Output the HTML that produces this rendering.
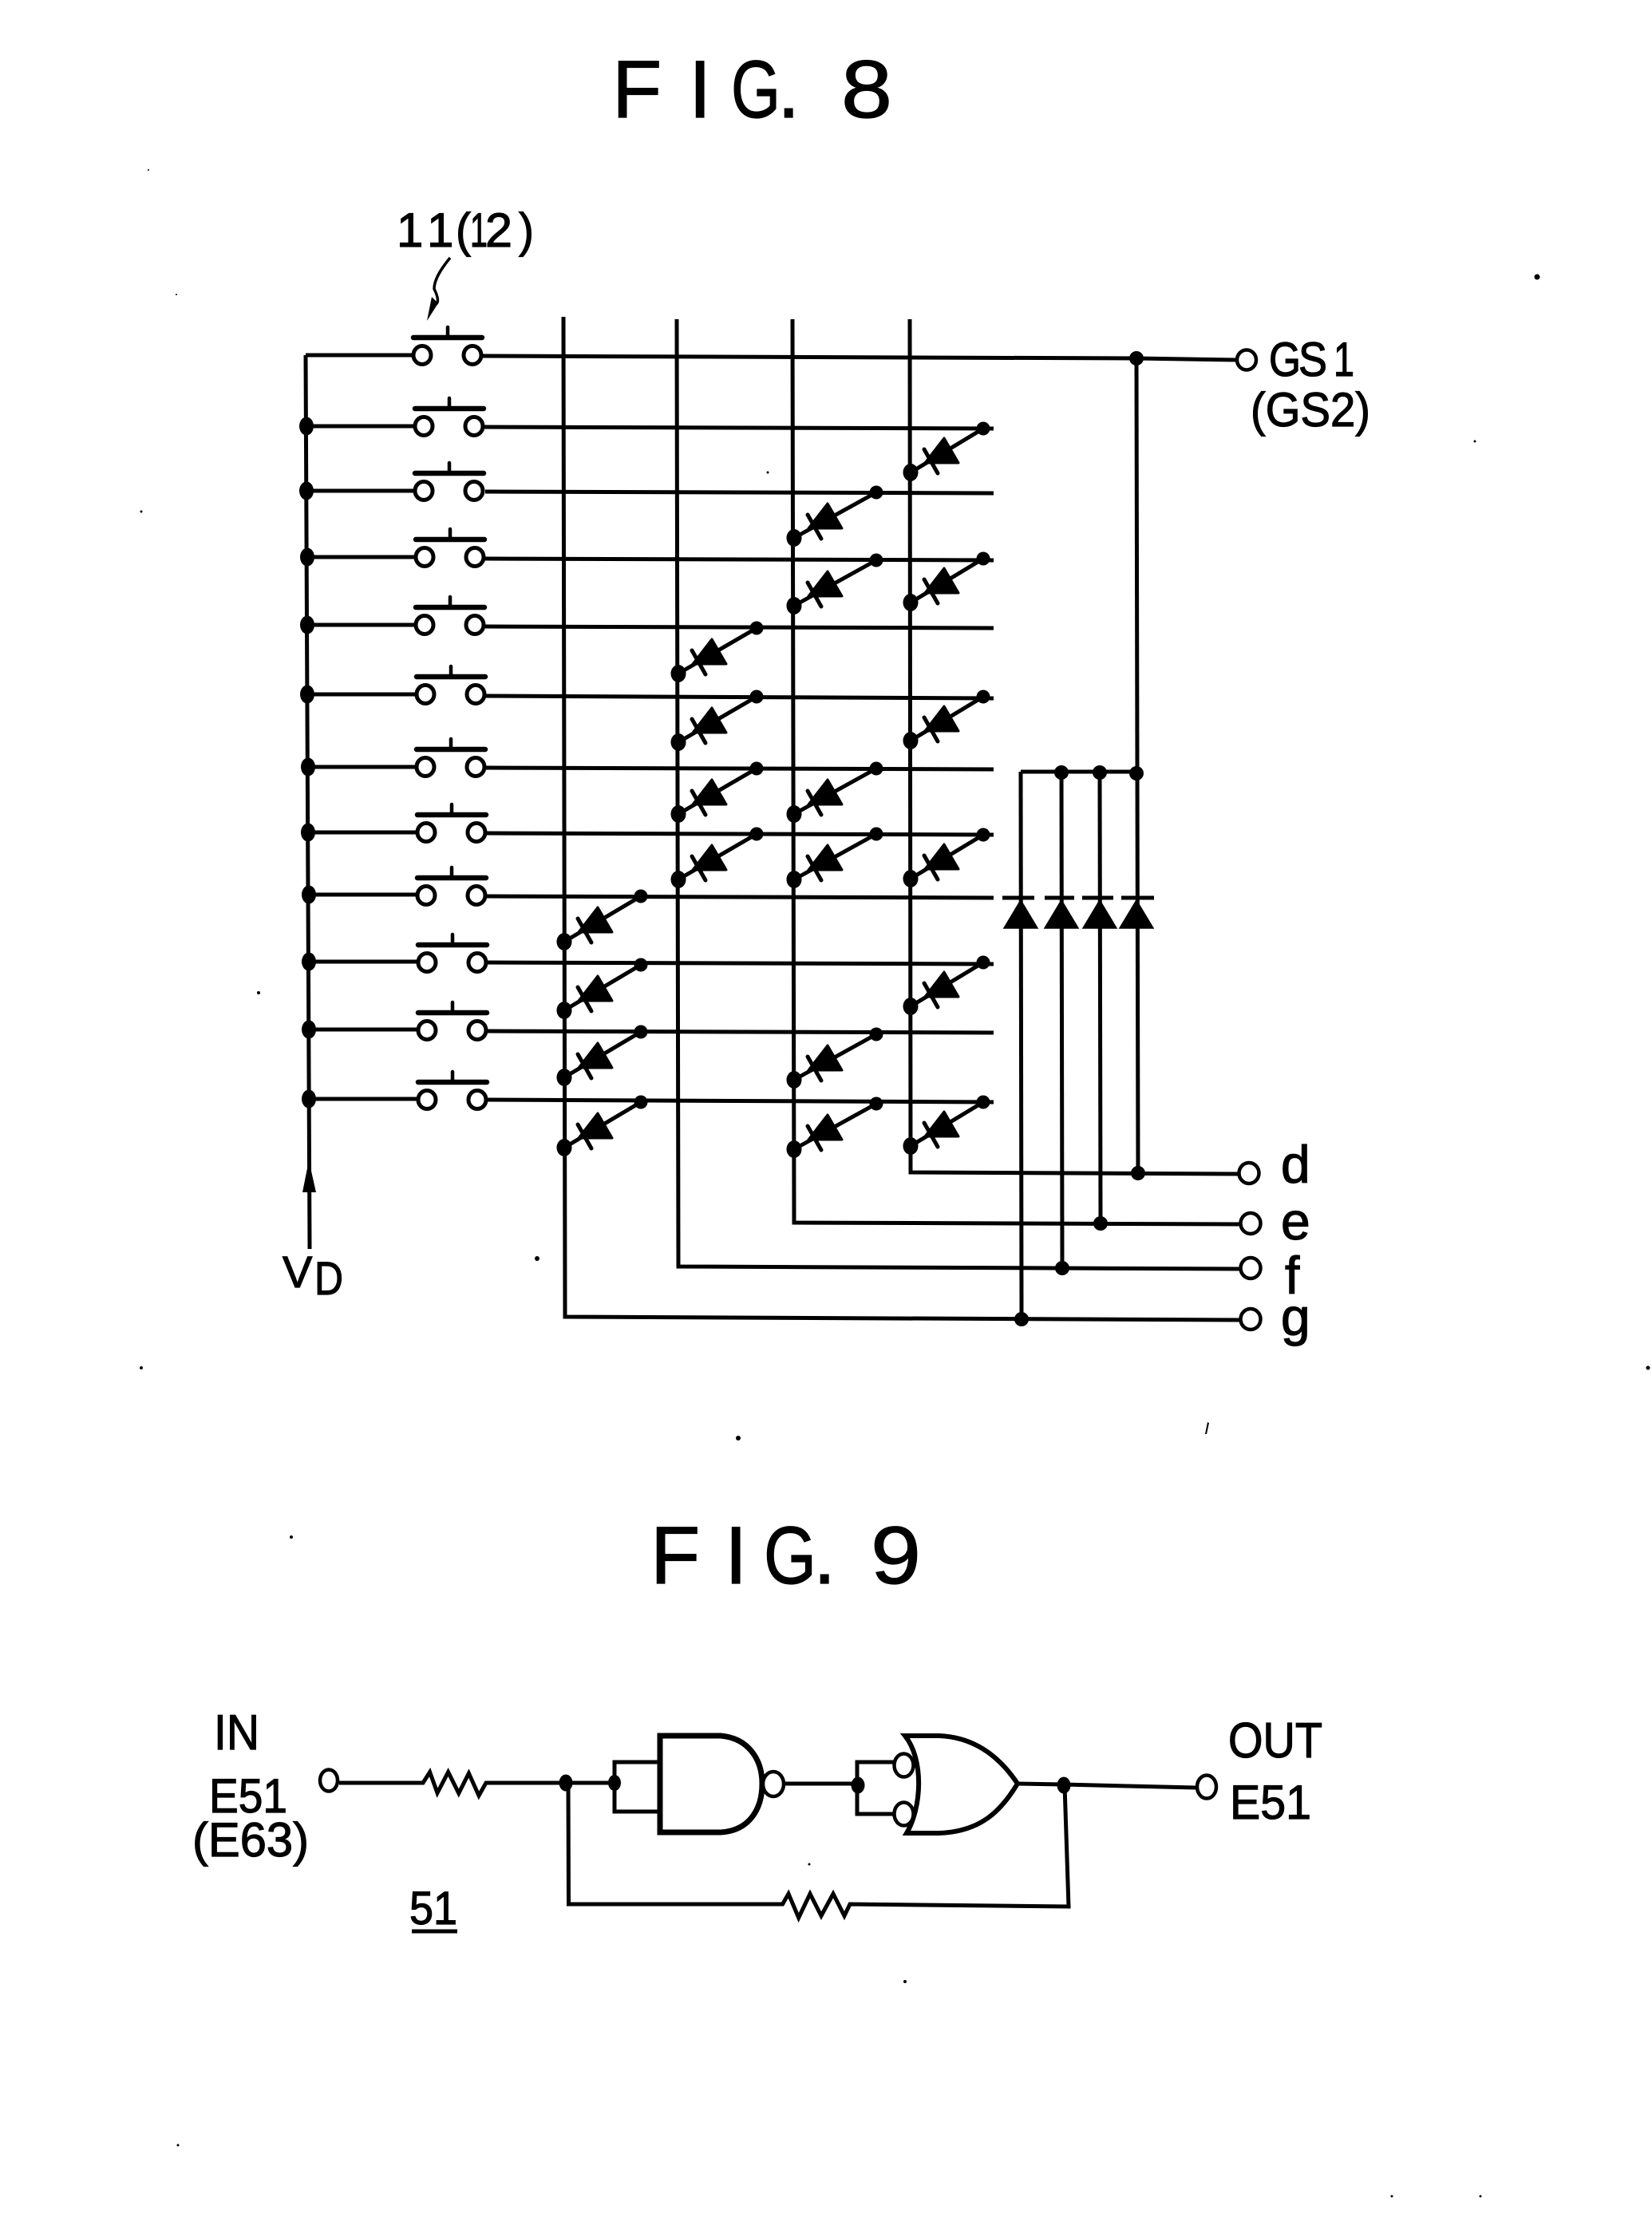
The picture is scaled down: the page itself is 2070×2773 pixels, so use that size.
<!DOCTYPE html>
<html>
<head>
<meta charset="utf-8">
<style>
html,body{margin:0;padding:0;background:#fff}
svg{display:block}
text{font-family:"Liberation Sans",sans-serif;fill:#000;stroke:#000;stroke-width:1.2}
</style>
</head>
<body>
<svg width="2070" height="2773" viewBox="0 0 2070 2773" xmlns="http://www.w3.org/2000/svg">
<defs>
<g id="sw">
  <path d="M-45 -22H41" stroke="#000" stroke-width="6.500" fill="none" stroke-linecap="round"/>
  <path d="M-2 -22V-35" stroke="#000" stroke-width="4.500" fill="none" stroke-linecap="round"/>
  <ellipse cx="-34" cy="0" rx="11" ry="11.500" fill="#fff" stroke="#000" stroke-width="5"/>
  <ellipse cx="29" cy="0" rx="11" ry="11.500" fill="#fff" stroke="#000" stroke-width="5"/>
</g>
<g id="dh">
  <path d="M42 -43L60 -12H18Z" fill="#000" stroke="#000" stroke-width="3" stroke-linejoin="round"/>
  <path d="M17 -29L34 1" stroke="#000" stroke-width="5" fill="none" stroke-linecap="round"/>
  <ellipse cx="0" cy="0" rx="9.500" ry="11" fill="#000"/>
</g>
<g id="d1"><path d="M0 0L96 -57" stroke="#000" stroke-width="5" fill="none"/><circle cx="96" cy="-57" r="8.500" fill="#000"/><use href="#dh"/></g>
<g id="d2"><path d="M0 0L98 -57" stroke="#000" stroke-width="5" fill="none"/><circle cx="98" cy="-57" r="8.500" fill="#000"/><use href="#dh"/></g>
<g id="d3"><path d="M0 0L103 -57" stroke="#000" stroke-width="5" fill="none"/><circle cx="103" cy="-57" r="8.500" fill="#000"/><use href="#dh"/></g>
<g id="d4"><path d="M0 0L91 -55" stroke="#000" stroke-width="5" fill="none"/><circle cx="91" cy="-55" r="8.500" fill="#000"/><use href="#dh"/></g>
<path id="tri" d="M0 0L21 35H-21Z" fill="#000" stroke="#000" stroke-width="1.500"/>
</defs>
<rect width="2070" height="2773" fill="#fff"/>

<!-- titles -->
<g font-size="102">
<text x="767" y="147">F</text>
<text x="863" y="147">I</text>
<text x="916" y="147" textLength="62" lengthAdjust="spacingAndGlyphs">G</text>
<text x="974" y="147">.</text>
<text x="1054" y="147" textLength="64" lengthAdjust="spacingAndGlyphs">8</text>
<text x="815" y="1984">F</text>
<text x="908" y="1984">I</text>
<text x="957" y="1984" textLength="66" lengthAdjust="spacingAndGlyphs">G</text>
<text x="1019" y="1984">.</text>
<text x="1091" y="1984" textLength="63" lengthAdjust="spacingAndGlyphs">9</text>
</g>

<!-- 11(12) -->
<g font-size="60">
<text x="497" y="309">1</text>
<text x="535" y="309">1</text>
<text x="571" y="309" textLength="19" lengthAdjust="spacingAndGlyphs">(</text>
<text x="589" y="309" textLength="22" lengthAdjust="spacingAndGlyphs">1</text>
<text x="608" y="309" textLength="34" lengthAdjust="spacingAndGlyphs">2</text>
<text x="650" y="309" textLength="19" lengthAdjust="spacingAndGlyphs">)</text>
</g>
<path d="M564 323C550 340 544 352 544 362C552 378 548 385 541 378" stroke="#000" stroke-width="3.500" fill="none"/>
<path d="M541 372L549 380L535 402Z" fill="#000"/>

<g stroke="#000" stroke-width="5" fill="none">
  <!-- power bus -->
  <path d="M383 445L388 1565"/>
  <!-- row wires -->
  <path d="M383 445H530M603 446L1424 449L1550 451"/>
  <path d="M384 534H530M605 535L1245 537"/>
  <path d="M384 615H530M608 616L1245 618"/>
  <path d="M384 698H530M608 700L1245 702"/>
  <path d="M384 783H530M608 785L1245 787"/>
  <path d="M385 870H530M608 872L1245 875"/>
  <path d="M385 961H530M608 962L1245 964"/>
  <path d="M385 1043H530M608 1044L1245 1046"/>
  <path d="M386 1121H530M608 1123L1245 1125"/>
  <path d="M386 1205H530M608 1206L1245 1208"/>
  <path d="M386 1290H530M608 1292L1245 1294"/>
  <path d="M386 1377H530M608 1378L1245 1381"/>
  <!-- columns -->
  <path d="M706 397L708 1650L1553 1654"/>
  <path d="M848 400L850 1587L1553 1590"/>
  <path d="M993 400L995 1532L1553 1534"/>
  <path d="M1140 400L1141 1469L1552 1471"/>
  <!-- diode matrix right side -->
  <path d="M1424 449L1426 1470"/>
  <path d="M1279 967H1424"/>
  <path d="M1279 967L1280 1653"/>
  <path d="M1330 967L1331 1589"/>
  <path d="M1378 967L1379 1533"/>
  <!-- diode bars -->
  <path d="M1256 1125H1296M1309 1125H1346M1356 1125H1395M1405 1125H1446"/>
</g>

<use href="#tri" x="1279" y="1128"/>
<use href="#tri" x="1330" y="1128"/>
<use href="#tri" x="1378" y="1128"/>
<use href="#tri" x="1424" y="1128"/>

<!-- switches -->
<use href="#sw" x="563" y="445"/>
<use href="#sw" x="565" y="534"/>
<use href="#sw" x="565" y="615"/>
<use href="#sw" x="566" y="698"/>
<use href="#sw" x="566" y="783"/>
<use href="#sw" x="567" y="870"/>
<use href="#sw" x="567" y="961"/>
<use href="#sw" x="568" y="1043"/>
<use href="#sw" x="568" y="1122"/>
<use href="#sw" x="569" y="1206"/>
<use href="#sw" x="569" y="1291"/>
<use href="#sw" x="569" y="1378"/>

<!-- bus junctions -->
<g fill="#000">
  <ellipse cx="384" cy="534" rx="9" ry="11.500"/>
  <ellipse cx="384" cy="615" rx="9" ry="11.500"/>
  <ellipse cx="385" cy="698" rx="9" ry="11.500"/>
  <ellipse cx="385" cy="783" rx="9" ry="11.500"/>
  <ellipse cx="385" cy="870" rx="9" ry="11.500"/>
  <ellipse cx="386" cy="961" rx="9" ry="11.500"/>
  <ellipse cx="386" cy="1043" rx="9" ry="11.500"/>
  <ellipse cx="387" cy="1121" rx="9" ry="11.500"/>
  <ellipse cx="387" cy="1205" rx="9" ry="11.500"/>
  <ellipse cx="387" cy="1290" rx="9" ry="11.500"/>
  <ellipse cx="387" cy="1377" rx="9" ry="11.500"/>
  <path d="M387 1454L396 1494H379Z"/>
  <circle cx="1424" cy="449" r="9"/>
  <circle cx="1330" cy="968" r="9"/>
  <circle cx="1378" cy="968" r="9"/>
  <circle cx="1424" cy="969" r="9"/>
  <circle cx="1426" cy="1470" r="9"/>
  <circle cx="1379" cy="1533" r="9"/>
  <circle cx="1331" cy="1589" r="9"/>
  <circle cx="1280" cy="1653" r="9"/>
</g>

<!-- matrix diodes -->
<use href="#d4" x="1141" y="592"/>
<use href="#d4" x="1141" y="755"/>
<use href="#d4" x="1141" y="928"/>
<use href="#d4" x="1141" y="1101"/>
<use href="#d4" x="1141" y="1261"/>
<use href="#d4" x="1141" y="1436"/>

<use href="#d3" x="995" y="674"/>
<use href="#d3" x="995" y="759"/>
<use href="#d3" x="995" y="1020"/>
<use href="#d3" x="995" y="1102"/>
<use href="#d3" x="995" y="1353"/>
<use href="#d3" x="995" y="1440"/>

<use href="#d2" x="850" y="844"/>
<use href="#d2" x="850" y="930"/>
<use href="#d2" x="850" y="1020"/>
<use href="#d2" x="850" y="1102"/>

<use href="#d1" x="707" y="1180"/>
<use href="#d1" x="707" y="1266"/>
<use href="#d1" x="707" y="1350"/>
<use href="#d1" x="707" y="1438"/>

<!-- terminals -->
<g fill="#fff" stroke="#000" stroke-width="4.500">
  <ellipse cx="1562" cy="451" rx="12" ry="12.500"/>
  <ellipse cx="1565" cy="1470" rx="12.500" ry="13"/>
  <ellipse cx="1567" cy="1533" rx="12.500" ry="13"/>
  <ellipse cx="1567" cy="1589" rx="12.500" ry="13"/>
  <ellipse cx="1567" cy="1653" rx="12.500" ry="13"/>
</g>

<!-- GS labels -->
<g font-size="60">
<text x="1590" y="471" textLength="40" lengthAdjust="spacingAndGlyphs">G</text>
<text x="1627" y="471" textLength="36" lengthAdjust="spacingAndGlyphs">S</text>
<text x="1671" y="471" textLength="26" lengthAdjust="spacingAndGlyphs">1</text>
<text x="1567" y="534" textLength="150" lengthAdjust="spacingAndGlyphs">(GS2)</text>
</g>
<text x="1605" y="1482" font-size="66">d</text>
<text x="1605" y="1553" font-size="66">e</text>
<text x="1610" y="1621" font-size="66">f</text>
<text x="1605" y="1673" font-size="66">g</text>
<text x="354" y="1613" font-size="56">V</text>
<text x="394" y="1622" font-size="58" textLength="36" lengthAdjust="spacingAndGlyphs">D</text>

<!-- FIG 9 -->
<g stroke="#000" stroke-width="5" fill="none">
  <path d="M425 2234H530L538.600 2220.500L548 2246.600L561.600 2220.500L574.800 2247L587.400 2222L600 2250L609 2234H770"/>
  <path d="M825 2208H770V2270H825"/>
  <path d="M712 2234L712.500 2386H980.600L988 2373L1000.700 2403L1015 2373L1029 2400.600L1044 2373L1058 2400.600L1065 2386L1339 2389L1334 2237"/>
  <path d="M983 2235H1075"/>
  <path d="M1125 2208H1074V2273H1125"/>
  <path d="M1275 2235L1332 2236L1498 2240"/>
</g>
<path d="M827 2175H903C938 2178 955 2205 955 2235C955 2268 938 2294 903 2296H827Z" fill="#fff" stroke="#000" stroke-width="7"/>
<ellipse cx="969" cy="2235.500" rx="13" ry="15.500" fill="#fff" stroke="#000" stroke-width="4.500"/>
<path d="M1134 2175H1177C1225 2177 1255 2205 1275 2235C1255 2268 1230 2295 1177 2297H1136C1155 2265 1158 2205 1134 2175Z" fill="#fff" stroke="#000" stroke-width="6"/>
<ellipse cx="1132.500" cy="2212" rx="12" ry="14.500" fill="#fff" stroke="#000" stroke-width="4.500"/>
<ellipse cx="1132.500" cy="2273" rx="12" ry="14.500" fill="#fff" stroke="#000" stroke-width="4.500"/>
<g fill="#000">
  <ellipse cx="709" cy="2234" rx="8.500" ry="10.500"/>
  <ellipse cx="770" cy="2234" rx="8" ry="10"/>
  <ellipse cx="1075" cy="2237" rx="8.500" ry="10.500"/>
  <ellipse cx="1333" cy="2237" rx="8.500" ry="10.500"/>
</g>
<ellipse cx="412" cy="2231" rx="11" ry="13.500" fill="#fff" stroke="#000" stroke-width="4.500"/>
<ellipse cx="1512" cy="2239" rx="12" ry="14.500" fill="#fff" stroke="#000" stroke-width="4.500"/>

<text x="268" y="2192" font-size="62" textLength="57" lengthAdjust="spacingAndGlyphs">IN</text>
<text x="262" y="2271" font-size="60" textLength="98" lengthAdjust="spacingAndGlyphs">E51</text>
<text x="241" y="2326" font-size="60" textLength="146" lengthAdjust="spacingAndGlyphs">(E63)</text>
<text x="513" y="2411" font-size="58" textLength="60" lengthAdjust="spacingAndGlyphs">51</text>
<path d="M516 2420H573" stroke="#000" stroke-width="5"/>
<text x="1539" y="2202" font-size="62" textLength="118" lengthAdjust="spacingAndGlyphs">OUT</text>
<text x="1541" y="2279" font-size="60" textLength="102" lengthAdjust="spacingAndGlyphs">E51</text>

<!-- specks -->
<g fill="#000">
  <circle cx="1926" cy="347" r="3.500"/>
  <circle cx="962" cy="592" r="1.500"/>
  <circle cx="673" cy="1577" r="3"/>
  <circle cx="925" cy="1802" r="3"/>
  <circle cx="365" cy="1926" r="2"/>
  <circle cx="177" cy="1714" r="2"/>
  <circle cx="2065" cy="1714" r="2.500"/>
  <path d="M1510 1797L1513 1782L1515 1783L1512 1797Z"/>
  <circle cx="324" cy="1244" r="2"/>
  <circle cx="1134" cy="2483" r="2"/>
  <circle cx="1744" cy="2752" r="1.500"/>
  <circle cx="1855" cy="2752" r="1.500"/>
  <circle cx="223" cy="2688" r="1.500"/>
  <circle cx="186" cy="213" r="1"/>
  <circle cx="221" cy="369" r="1"/>
  <circle cx="1848" cy="553" r="1.500"/>
  <circle cx="177" cy="641" r="1.500"/>
  <circle cx="1014" cy="2336" r="1.500"/>
</g>
</svg>
</body>
</html>
